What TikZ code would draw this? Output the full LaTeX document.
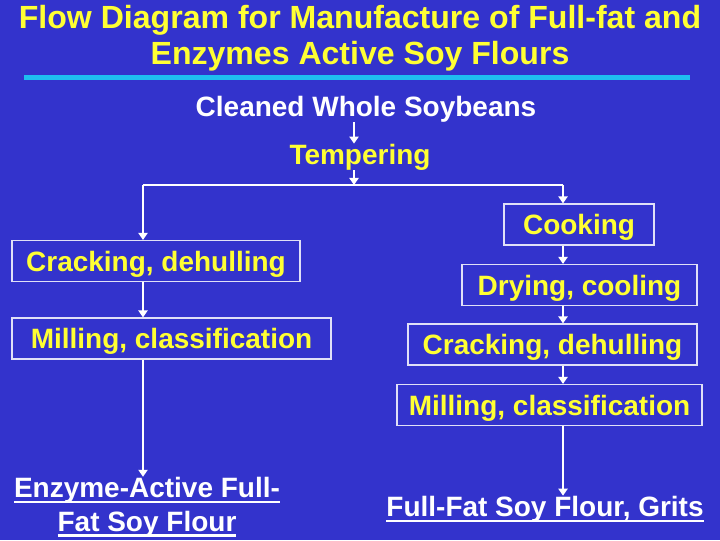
\documentclass[tikz,border=0pt]{standalone}
\usepackage{fontspec}
\setmainfont{Liberation Sans}
\usetikzlibrary{arrows.meta}

\definecolor{slideblue}{RGB}{51,51,204}
\definecolor{slideyellow}{RGB}{255,255,51}
\definecolor{rulecyan}{RGB}{30,190,240}

\newcommand{\bigbold}{\bfseries\fontsize{19.9}{24}\selectfont}
\newsavebox{\ulbox}
\newcommand{\ulbar}[1]{\sbox{\ulbox}{#1}%
    \rlap{\rule[-4pt]{\wd\ulbox}{1.6pt}}\usebox{\ulbox}}

\tikzset{
    stepbox/.style={draw=white!85!slideblue,line width=0.8pt,
        text=slideyellow,font=\bigbold,inner sep=0pt,
        text height=0.5cm,text depth=0pt,
        minimum height=1.025cm},
    plaintext/.style={font=\bigbold,inner sep=0pt,align=center},
    flow/.style={white,line width=1.9pt,
        -{Triangle[width=6.5pt,length=5pt]}},
    joint/.style={white,line width=1.9pt},
}

\begin{document}
\begin{tikzpicture}[x=0.025cm,y=-0.025cm]
    \fill[slideblue] (0,0) rectangle (720,540);
    \useasboundingbox (0,0) rectangle (720,540);

    % Title.
    \node[plaintext,text=slideyellow,
        font=\bfseries\fontsize{22.8}{25.2}\selectfont] (title) at (360,38)
        {Flow Diagram for Manufacture of Full-fat and\\
         Enzymes Active Soy Flours};
    \draw[rulecyan,line width=0.125cm] (24,77) -- (690,77);

    % Common start.
    \node[plaintext,text=white] (beans) at (366,109)
        {Cleaned Whole Soybeans};
    \node[plaintext,text=slideyellow] (temper) at (360,157)
        {Tempering};
    \coordinate (split) at (354,185);
    \coordinate (split-left) at (143,185);
    \coordinate (split-right) at (563,185);

    % Left branch.
    \node[stepbox,minimum width=7.2cm] (crack-left) at (156,261)
        {Cracking, dehulling};
    \node[stepbox,minimum width=7.975cm] (mill-left) at (171.5,338.5)
        {Milling, classification};
    \node[plaintext,text=white] (flour-left) at (147,507)
        {\ulbar{Enzyme-Active Full-}\\\ulbar{Fat Soy Flour}};

    % Right branch.
    \node[stepbox,minimum width=3.75cm] (cook) at (579,224.5)
        {Cooking};
    \node[stepbox,minimum width=5.875cm] (dry) at (579.5,285)
        {Drying, cooling};
    \node[stepbox,minimum width=7.225cm] (crack-right) at (552.5,344.5)
        {Cracking, dehulling};
    \node[stepbox,minimum width=7.625cm] (mill-right) at (549.5,405)
        {Milling, classification};
    \node[plaintext,text=white] (flour-right) at (545,509)
        {\ulbar{Full-Fat Soy Flour, Grits}};

    % Connectors.
    \draw[flow] (beans.south -| split) -- (temper.north -| split);
    \draw[flow] (temper.south -| split) -- (split);
    \draw[joint] (split-left) -- (split-right);
    \draw[flow] (split-left) -- (split-left |- crack-left.north);
    \draw[flow] (split-left |- crack-left.south)
        -- (split-left |- mill-left.north);
    \draw[flow] (split-left |- mill-left.south)
        -- (split-left |- flour-left.north);
    \draw[flow] (split-right) -- (split-right |- cook.north);
    \draw[flow] (split-right |- cook.south) -- (split-right |- dry.north);
    \draw[flow] (split-right |- dry.south)
        -- (split-right |- crack-right.north);
    \draw[flow] (split-right |- crack-right.south)
        -- (split-right |- mill-right.north);
    \draw[flow] (split-right |- mill-right.south)
        -- (split-right |- flour-right.north);
\end{tikzpicture}
\end{document}
